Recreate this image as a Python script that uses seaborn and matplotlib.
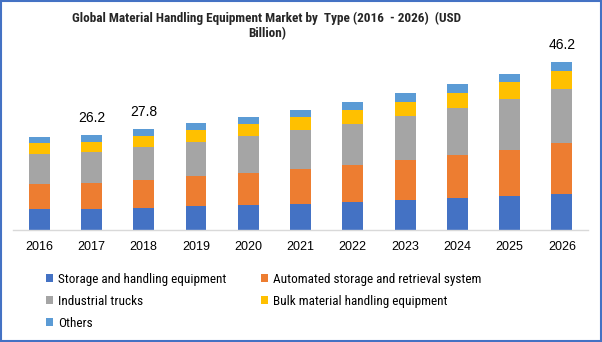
import matplotlib
matplotlib.use("Agg")
import matplotlib.pyplot as plt
from matplotlib.patches import Rectangle
from matplotlib import font_manager
import seaborn as sns
import pandas as pd
import numpy as np

years = ["2016", "2017", "2018", "2019", "2020", "2021", "2022", "2023", "2024", "2025", "2026"]
storage = [5.8, 5.8, 6.0, 6.6, 6.9, 7.2, 7.7, 8.3, 8.8, 9.4, 9.9]
automated = [6.9, 7.2, 7.7, 8.3, 8.8, 9.6, 10.2, 11.0, 11.8, 12.7, 14.0]
trucks = [8.3, 8.5, 9.2, 9.4, 10.2, 10.7, 11.3, 12.1, 12.9, 14.0, 14.8]
bulk = [2.8, 2.8, 3.0, 3.3, 3.3, 3.6, 3.9, 3.9, 4.1, 4.7, 5.0]
others = [1.9, 1.9, 1.9, 1.9, 1.9, 1.9, 2.2, 2.5, 2.5, 2.2, 2.5]
series_names = ["Storage and handling equipment", "Automated storage and retrieval system",
                "Industrial trucks", "Bulk material handling equipment", "Others"]
colors = ["#4472C4", "#ED7D31", "#A5A5A5", "#FFC000", "#5B9BD5"]
label_years = ["2017", "2018", "2026"]
label_texts = ["26.2", "27.8", "46.2"]

sns.set_theme(style="white")
plt.rcParams["font.family"] = ["Liberation Sans", "DejaVu Sans"]

installed = {f.name for f in font_manager.fontManager.ttflist}
narrow_name = None
for cand in ["Roboto Condensed", "Archivo Narrow", "PT Sans Narrow", "Barlow Condensed"]:
    if cand in installed:
        narrow_name = cand
        break
narrow = [narrow_name, "Liberation Sans", "DejaVu Sans"] if narrow_name else ["Liberation Sans", "DejaVu Sans"]
title_size = 9.5 if narrow_name else 8.4
legend_size = 9.5 if narrow_name else 8.8

fig = plt.figure(figsize=(6.02, 3.42), dpi=100)
ax = fig.add_axes([13 / 602, 112 / 342, 575 / 602, 189 / 342])

series = [storage, automated, trucks, bulk, others]
bottom = np.zeros(len(years))
handles = []
for name, vals, col in zip(series_names, series, colors):
    df = pd.DataFrame({"year": years, "value": vals})
    sns.barplot(data=df, x="year", y="value", color=col, width=0.4,
                bottom=bottom.copy(), errorbar=None, ax=ax, label=name,
                saturation=1, linewidth=0)
    handles.append(ax.containers[-1])
    bottom = bottom + np.array(vals)

totals = bottom
for ly, lt in zip(label_years, label_texts):
    i = years.index(ly)
    ax.annotate(lt, (i, totals[i]), xytext=(0, 17), textcoords="offset pixels",
                ha="center", va="center", fontsize=10, color="#000000")

ax.set_xlim(-0.5, len(years) - 0.5)
ax.set_ylim(0, 52)
ax.set_xlabel("")
ax.set_ylabel("")
ax.set_yticks([])
for s in ["left", "right", "top"]:
    ax.spines[s].set_visible(False)
ax.spines["bottom"].set_color("#D9D9D9")
ax.spines["bottom"].set_linewidth(1)
ax.tick_params(axis="x", length=0, pad=8, labelsize=9, labelcolor="#000000")
if ax.get_legend() is not None:
    ax.get_legend().remove()

fig.text(267 / 602, 1 - 18 / 342, "Global Material Handling Equipment Market by  Type (2016  - 2026)  (USD",
         ha="center", va="center", fontsize=title_size, fontweight="bold", family=narrow)
fig.text(267 / 602, 1 - 34 / 342, "Billion)", ha="center", va="center", fontsize=title_size,
         fontweight="bold", family=narrow)

col1 = [handles[0], handles[2], handles[4]]
col1_labels = [series_names[0], series_names[2], series_names[4]]
col2 = [handles[1], handles[3]]
col2_labels = [series_names[1], series_names[3]]
legend_kw = dict(frameon=False, handlelength=0.55, handleheight=0.55,
                 handletextpad=0.35, labelspacing=0.68, borderaxespad=0, borderpad=0,
                 labelcolor="#000000",
                 prop={"family": narrow, "size": legend_size})
leg1 = fig.legend(col1, col1_labels, loc="upper left", bbox_to_anchor=(46 / 602, 1 - 273 / 342), **legend_kw)
leg2 = fig.legend(col2, col2_labels, loc="upper left", bbox_to_anchor=(261 / 602, 1 - 273 / 342), **legend_kw)

fig.patches.append(Rectangle((0.5 / 602, 1.5 / 342), 600 / 602, 339.5 / 342, transform=fig.transFigure,
                             fill=False, edgecolor="#4472C4", linewidth=1.5))

fig.savefig("out.png", dpi=100)
